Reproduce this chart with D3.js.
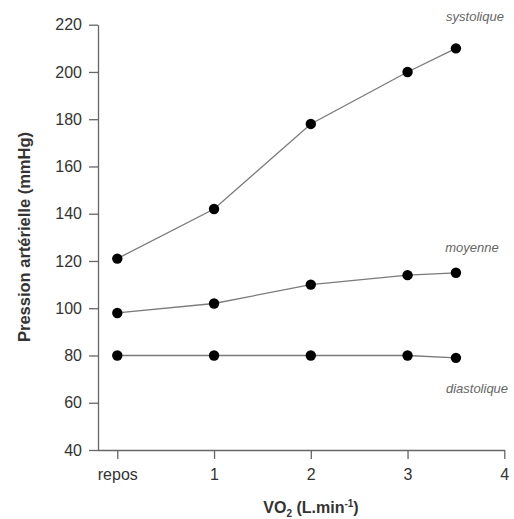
<!DOCTYPE html>
<html><head><meta charset="utf-8">
<script src="https://cdn.jsdelivr.net/npm/d3@7"></script>
<style>body{margin:0;background:#fff;font-family:"Liberation Sans",Arial,sans-serif;}</style>
</head><body>
<svg id="c" width="514" height="519"></svg>
<script>
const xValues = [0, 1, 2, 3, 3.5];
const systolique = [121, 142, 178, 200, 210];
const moyenne = [98, 102, 110, 114, 115];
const diastolique = [80, 80, 80, 80, 79];
const seriesNames = ["systolique", "moyenne", "diastolique"];
const xTicks = [0, 1, 2, 3, 4];
const xTickLabels = ["repos", "1", "2", "3", "4"];
const yTicks = [40, 60, 80, 100, 120, 140, 160, 180, 200, 220];

const svg = d3.select("#c");
const x = d3.scaleLinear().domain([0, 4]).range([117.3, 504.3]);
const y = d3.scaleLinear().domain([40, 220]).range([450, 24.7]);
const axisColor = "#666";
const textColor = "#333";

// Y axis
const ya = svg.append("g").attr("transform", "translate(98,0)")
  .call(d3.axisLeft(y).tickValues(yTicks).tickSize(9).tickPadding(7).tickSizeOuter(0));
ya.select(".domain").attr("stroke", axisColor).attr("stroke-width", 1.3);
ya.selectAll(".tick line").attr("stroke", axisColor).attr("stroke-width", 1.3);
ya.selectAll(".tick text").attr("fill", textColor).style("font-size", "16px").style("font-family", "Liberation Sans, Arial, sans-serif");

// X axis
const xa = svg.append("g").attr("transform", "translate(0,450)")
  .call(d3.axisBottom(x).tickValues(xTicks).tickFormat((d, i) => xTickLabels[i]).tickSize(9).tickPadding(10).tickSizeOuter(0));
xa.select(".domain").attr("d", "M98,0.5H505").attr("stroke", axisColor).attr("stroke-width", 1.3);
xa.selectAll(".tick line").attr("stroke", axisColor).attr("stroke-width", 1.3);
xa.selectAll(".tick text").attr("fill", textColor).style("font-size", "16px").style("font-family", "Liberation Sans, Arial, sans-serif");

// Axis titles
svg.append("text").attr("transform", "translate(30,237) rotate(-90)")
  .attr("text-anchor", "middle").attr("fill", textColor)
  .style("font-size", "16.5px").style("font-weight", "bold")
  .text("Pression artérielle (mmHg)");

const xt = svg.append("text").attr("x", 311).attr("y", 513)
  .attr("text-anchor", "middle").attr("fill", textColor)
  .style("font-size", "16px").style("font-weight", "bold");
xt.append("tspan").text("VO");
xt.append("tspan").attr("dy", 4).style("font-size", "10px").text("2");
xt.append("tspan").attr("dy", -4).text(" (L.min");
xt.append("tspan").attr("dy", -6).style("font-size", "10px").text("-1");
xt.append("tspan").attr("dy", 6).text(")");

// Series
const series = [systolique, moyenne, diastolique];
const line = d3.line().x((d, i) => x(xValues[i])).y(d => y(d));
series.forEach(s => {
  svg.append("path").attr("d", line(s)).attr("fill", "none")
    .attr("stroke", "#7a7a7a").attr("stroke-width", 1.3);
  svg.selectAll(null).data(s).enter().append("circle")
    .attr("cx", (d, i) => x(xValues[i])).attr("cy", d => y(d)).attr("r", 5.2)
    .attr("fill", "#000");
});

// Series labels
const labelPos = [[475, 21], [472, 252], [477, 393]];
seriesNames.forEach((n, i) => {
  svg.append("text").attr("x", labelPos[i][0]).attr("y", labelPos[i][1])
    .attr("text-anchor", "middle").attr("fill", "#666")
    .style("font-size", "13px").style("font-style", "italic").text(n);
});
</script>
</body></html>
